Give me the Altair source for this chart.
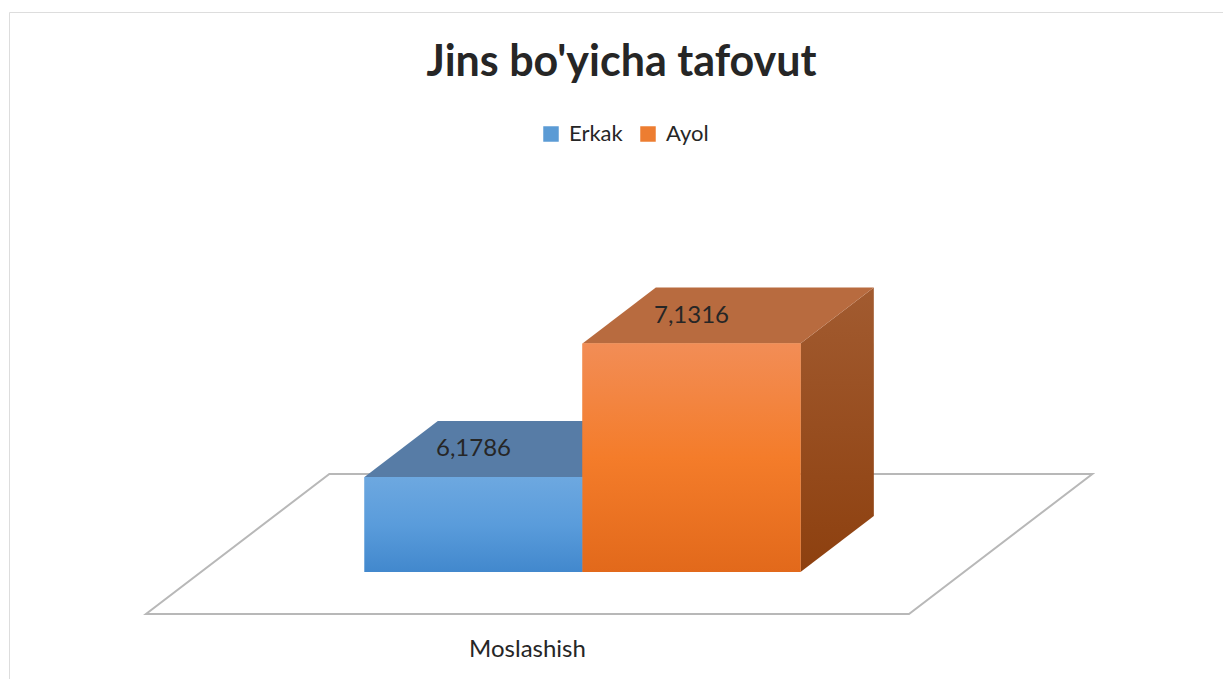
import altair as alt
import pandas as pd

# ---------------- data ----------------
title_text = "Jins bo'yicha tafovut"
category = ["Moslashish"]
series = ["Erkak", "Ayol"]
values = [6.1786, 7.1316]
value_labels = ["6,1786", "7,1316"]
axis_min = 5.5  # value axis minimum (floor level)

# ---------------- 3D projection style ----------------
GAP = 0.75            # half of a 150% gap width, in bar widths
Z_FRONT, Z_BACK = 0.3, 0.7
SKEW_X = 0.841        # horizontal shift per unit of depth (bar widths)
SKEW_Y = 1.0          # vertical shift per unit of depth (value units)
FONT = "Lato"
TEXT = "#262626"

def px(u, z):
    return u + SKEW_X * z

def py(v, z):
    return v + SKEW_Y * z

floor_w = 2 * GAP + len(series)

# floor parallelogram (area: x, lower y, upper y)
floor_df = pd.DataFrame({
    "x": [px(0, 0), px(0, 1), px(floor_w, 0), px(floor_w, 1)],
    "y": [py(axis_min, 0), py(axis_min, 0), py(axis_min, 0), py(axis_min, 1)],
    "y2": [py(axis_min, 0), py(axis_min, 1), py(axis_min, 1), py(axis_min, 1)],
})

front_rows, top_rows, side_rows, label_rows = [], [], [], []
for i, (s, v, lab) in enumerate(zip(series, values, value_labels)):
    u0, u1 = GAP + i, GAP + i + 1
    front_rows.append({"series": s, "x": px(u0, Z_FRONT), "x2": px(u1, Z_FRONT),
                       "y": py(axis_min, Z_FRONT), "y2": py(v, Z_FRONT)})
    for x, y, y2 in [
        (px(u0, Z_FRONT), py(v, Z_FRONT), py(v, Z_FRONT)),
        (px(u0, Z_BACK), py(v, Z_FRONT), py(v, Z_BACK)),
        (px(u1, Z_FRONT), py(v, Z_FRONT), py(v, Z_BACK)),
        (px(u1, Z_BACK), py(v, Z_BACK), py(v, Z_BACK)),
    ]:
        top_rows.append({"series": s, "x": x, "y": y, "y2": y2})
    for x, y, y2 in [
        (px(u1, Z_FRONT), py(axis_min, Z_FRONT), py(v, Z_FRONT)),
        (px(u1, Z_BACK), py(axis_min, Z_BACK), py(v, Z_BACK)),
    ]:
        side_rows.append({"series": s, "x": x, "y": y, "y2": y2})
    label_rows.append({"series": s, "label": lab,
                       "x": px(u0 + 0.5, Z_FRONT), "y": py(v, 0.5)})

front_df = pd.DataFrame(front_rows)
top_df = pd.DataFrame(top_rows)
side_df = pd.DataFrame(side_rows)
label_df = pd.DataFrame(label_rows)
cat_df = pd.DataFrame({"label": category, "x": [floor_w / 2], "y": [axis_min - 0.257]})

# ---------------- scales ----------------
xs = alt.Scale(domain=[-0.6284, 4.9541], nice=False, zero=False)
ys = alt.Scale(domain=[5.0143, 9.8], nice=False, zero=False)
X = lambda f="x": alt.X(f"{f}:Q", scale=xs, axis=None)
Y = lambda f="y": alt.Y(f"{f}:Q", scale=ys, axis=None)

def grad(stops):
    return alt.LinearGradient(
        gradient="linear", x1=0, x2=0, y1=0, y2=1,
        stops=[alt.GradientStop(color=c, offset=o) for o, c in stops])

face_colors = {
    "Erkak": {"top": "#577ca6", "side": grad([(0, "#4a78a8"), (1, "#2f5f94")]),
              "front": grad([(0, "#6da8e0"), (0.5, "#5a9cdb"), (1, "#4288cd")])},
    "Ayol": {"top": "#b86b3f", "side": grad([(0, "#a25b30"), (1, "#8d400f")]),
             "front": grad([(0, "#f28d56"), (0.5, "#f47c2a"), (1, "#e2691b")])},
}

floor = alt.Chart(floor_df).mark_area(
    orient="vertical", fill="white", stroke="#b8b8b8", strokeWidth=2
).encode(x=X(), y=Y(), y2="y2:Q")

layers = [floor]
for s in series:
    layers.append(alt.Chart(side_df).transform_filter(alt.datum.series == s).mark_area(
        orient="vertical", color=face_colors[s]["side"]).encode(x=X(), y=Y(), y2="y2:Q"))
    layers.append(alt.Chart(top_df).transform_filter(alt.datum.series == s).mark_area(
        orient="vertical", color=face_colors[s]["top"]).encode(x=X(), y=Y(), y2="y2:Q"))

front = alt.Chart(front_df).mark_rect().encode(
    x=X(), x2="x2:Q", y=Y(), y2="y2:Q",
    color=alt.Color("series:N", title=None,
                    scale=alt.Scale(domain=series, range=["#5b9bd5", "#ed7d31"]),
                    legend=alt.Legend(orient="none", direction="horizontal",
                                      legendX=531, legendY=111,
                                      symbolType="square", symbolSize=240,
                                      symbolStrokeWidth=0, labelFont=FONT,
                                      labelFontSize=22, labelColor=TEXT,
                                      labelOffset=7, columnPadding=14, padding=0)),
)
layers.append(front)
for s in series:
    layers.append(alt.Chart(front_df).transform_filter(alt.datum.series == s).mark_rect(
        color=face_colors[s]["front"]).encode(x=X(), x2="x2:Q", y=Y(), y2="y2:Q"))

labels = alt.Chart(label_df).mark_text(
    font=FONT, fontSize=24, color=TEXT, align="center", baseline="middle"
).encode(x=X(), y=Y(), text="label:N")
cat = alt.Chart(cat_df).mark_text(
    font=FONT, fontSize=24, color=TEXT, align="center", baseline="middle"
).encode(x=X(), y=Y(), text="label:N")
layers += [labels, cat]

chart = alt.layer(*layers).properties(
    width=1217, height=670,
    padding={"left": 9, "top": 12, "right": -3, "bottom": -3},
    autosize=alt.AutoSizeParams(type="none"),
    title=alt.TitleParams(text=title_text, font=FONT, fontSize=43, fontWeight="bold",
                          color=TEXT, anchor="middle", frame="group", orient="top",
                          offset=-107, baseline="alphabetic", dx=4),
).configure_view(stroke="#a6a6a6", strokeWidth=1.5).configure(background="white")

chart.save("out.html", embed_options={"renderer": "svg", "actions": False})
